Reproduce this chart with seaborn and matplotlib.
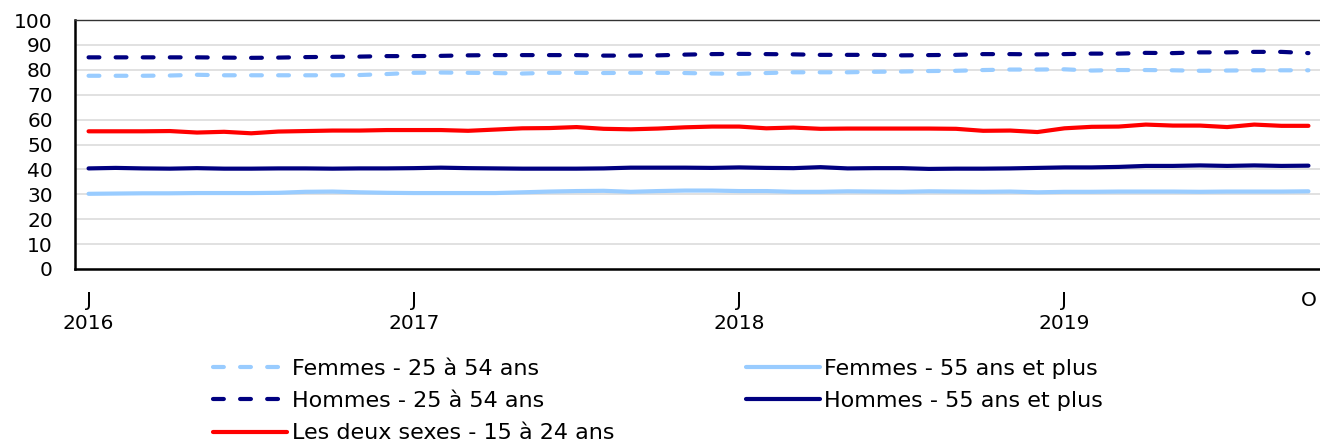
import numpy as np
import pandas as pd
import matplotlib
matplotlib.use("Agg")
import matplotlib.pyplot as plt
from matplotlib.lines import Line2D
import seaborn as sns

# ---- data (monthly, Jan 2016 .. Oct 2019) ----
months = pd.date_range("2016-01-01", "2019-10-01", freq="MS")

femmes_25_54 = [77.6, 77.6, 77.6, 77.7, 78.0, 77.8, 77.8, 77.8, 77.8, 77.8,
                77.9, 78.3, 78.8, 78.9, 78.8, 78.7, 78.5, 78.8, 78.8, 78.7,
                78.8, 78.8, 78.7, 78.5, 78.4, 78.7, 79.0, 79.0, 79.0, 79.2,
                79.3, 79.5, 79.6, 79.9, 80.1, 80.1, 80.2, 79.7, 79.9, 79.9,
                79.8, 79.6, 79.7, 79.8, 79.8, 79.8]
hommes_25_54 = [85.0, 85.0, 85.0, 85.0, 85.0, 84.9, 84.8, 84.9, 85.1, 85.2,
                85.3, 85.5, 85.5, 85.6, 85.8, 85.9, 85.9, 85.9, 85.9, 85.7,
                85.7, 85.8, 86.1, 86.3, 86.4, 86.3, 86.2, 86.0, 86.0, 86.0,
                85.8, 85.9, 86.0, 86.3, 86.3, 86.2, 86.3, 86.5, 86.5, 86.8,
                86.7, 87.0, 87.0, 87.2, 87.2, 86.7]
deux_sexes_15_24 = [55.3, 55.3, 55.3, 55.4, 54.8, 55.1, 54.5, 55.2, 55.4, 55.6,
                    55.6, 55.8, 55.8, 55.8, 55.5, 56.0, 56.5, 56.6, 57.0, 56.3,
                    56.1, 56.4, 56.9, 57.2, 57.2, 56.5, 56.8, 56.3, 56.4, 56.4,
                    56.4, 56.4, 56.3, 55.5, 55.6, 55.0, 56.5, 57.1, 57.2, 58.0,
                    57.6, 57.6, 57.0, 58.0, 57.5, 57.5]
femmes_55 = [30.2, 30.3, 30.4, 30.4, 30.5, 30.5, 30.5, 30.6, 31.0, 31.1,
             30.8, 30.6, 30.5, 30.5, 30.5, 30.5, 30.8, 31.1, 31.3, 31.4,
             31.0, 31.3, 31.5, 31.5, 31.3, 31.3, 31.0, 31.0, 31.2, 31.1,
             31.0, 31.2, 31.1, 31.0, 31.1, 30.8, 31.0, 31.0, 31.1, 31.1,
             31.1, 31.0, 31.1, 31.1, 31.1, 31.2]
hommes_55 = [40.4, 40.6, 40.4, 40.3, 40.5, 40.3, 40.3, 40.4, 40.4, 40.3,
             40.4, 40.4, 40.5, 40.7, 40.5, 40.4, 40.3, 40.3, 40.3, 40.4,
             40.7, 40.7, 40.7, 40.6, 40.8, 40.6, 40.5, 40.9, 40.4, 40.5,
             40.5, 40.2, 40.3, 40.3, 40.4, 40.6, 40.8, 40.8, 41.0, 41.4,
             41.4, 41.6, 41.4, 41.6, 41.4, 41.5]

labels = ["Femmes - 25 à 54 ans", "Hommes - 25 à 54 ans",
          "Les deux sexes - 15 à 24 ans",
          "Femmes - 55 ans et plus", "Hommes - 55 ans et plus"]
series = [femmes_25_54, hommes_25_54, deux_sexes_15_24, femmes_55, hommes_55]
colors = ["#99CCFF", "#000080", "#FF0000", "#99CCFF", "#000080"]
dashed = [True, True, False, False, False]

x_labels = {0: "J\n2016", 12: "J\n2017", 24: "J\n2018", 36: "J\n2019", 45: "O"}

# ---- plotting ----
sns.set_style("white")
plt.rcParams["font.family"] = ["DejaVu Sans"]
plt.rcParams["text.color"] = "black"
plt.rcParams["xtick.color"] = "black"
plt.rcParams["ytick.color"] = "black"
plt.rcParams["axes.labelcolor"] = "black"
FS = 14.5
LFS = 16

fig = plt.figure(figsize=(13.2, 4.42), dpi=100)
ax = fig.add_axes([75 / 1320, 173 / 442, 1247 / 1320, 249 / 442])

idx = np.arange(len(months))
handles = []
for vals, col, dsh, lab in zip(series, colors, dashed, labels):
    df = pd.DataFrame({"x": idx, "y": vals})
    sns.lineplot(data=df, x="x", y="y", ax=ax, color=col, linewidth=3.0,
                 legend=False)
    ln = ax.lines[-1]
    ln.set_solid_capstyle("round")
    if dsh:
        ln.set_dashes((2.6, 3.9))
        ln.set_dash_capstyle("round")
    h = Line2D([], [], color=col, linewidth=3.0,
               linestyle=(0, (2.6, 3.9)) if dsh else "-",
               dash_capstyle="round")
    handles.append(h)

ax.set_xlim(-0.5, len(months) - 0.5)
ax.set_ylim(0, 100)
ax.set_xlabel("")
ax.set_ylabel("")

ax.set_yticks(np.arange(0, 101, 10))
ax.yaxis.grid(True, color="#D9D9D9", linewidth=1.1)
ax.set_axisbelow(True)
ax.tick_params(axis="y", length=0, pad=16, labelsize=FS, labelcolor="black")

# major ticks: category boundaries (marks only); minor ticks: labels
ax.set_xticks(np.arange(0.5, len(months) - 0.5, 1.0))
ax.set_xticklabels([])
ax.tick_params(axis="x", which="major", direction="in", length=7,
               width=1.2, color="black")
ax.set_xticks(list(x_labels.keys()), minor=True)
ax.set_xticklabels(list(x_labels.values()), minor=True)
ax.tick_params(axis="x", which="minor", length=0, pad=16, labelsize=FS,
               labelcolor="black")
for t in ax.get_xticklabels(minor=True):
    t.set_linespacing(1.25)
    t.set_verticalalignment("top")

for s in ["left", "bottom"]:
    ax.spines[s].set_visible(True)
    ax.spines[s].set_color("black")
    ax.spines[s].set_linewidth(1.8)
ax.spines["top"].set_visible(True)
ax.spines["top"].set_color("#333333")
ax.spines["top"].set_linewidth(1.0)
ax.spines["right"].set_visible(False)

leg = fig.legend(handles, labels, ncol=2, frameon=False, fontsize=LFS,
                 loc="upper left", bbox_to_anchor=(213 / 1320, 1 - 359 / 442),
                 handlelength=3.35, handletextpad=0.2, columnspacing=5.9,
                 labelspacing=0.55, borderaxespad=0, borderpad=0)
for t in leg.get_texts():
    t.set_color("black")

fig.savefig("out.png", dpi=100)
